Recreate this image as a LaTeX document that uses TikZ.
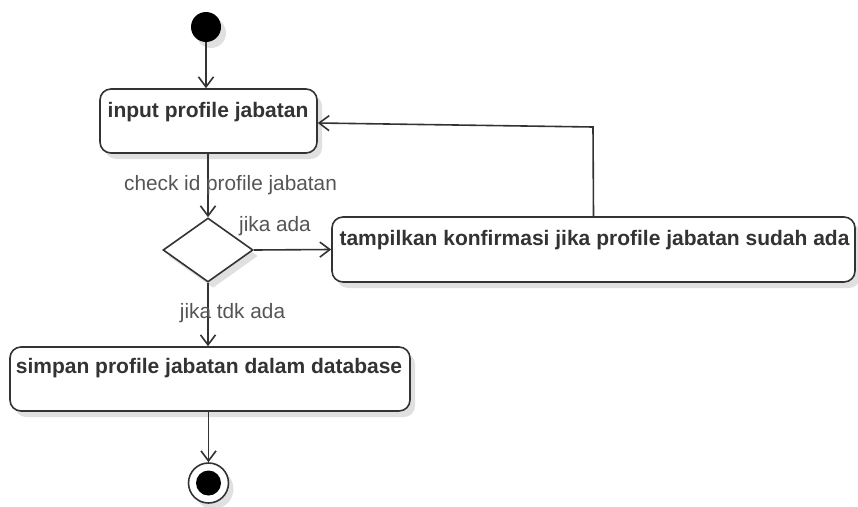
\documentclass[tikz,border=0pt]{standalone}
\usepackage{fontspec}
\setmainfont{Liberation Sans}
\usetikzlibrary{shapes.geometric,arrows.meta,shadows}
\definecolor{ink}{HTML}{333333}
\definecolor{labelgray}{HTML}{555555}
\tikzset{
  every picture/.style={x=1pt,y=-1pt},
  shade/.style={drop shadow={shadow xshift=5pt,shadow yshift=-6pt,opacity=0.12,fill=black}},
  actbox/.style={draw=ink,line width=1.6pt,rounded corners=11pt,fill=white,shade,inner sep=0pt},
  acttext/.style={font=\bfseries\fontsize{21}{25}\selectfont,text=ink,anchor=base},
  guard/.style={font=\fontsize{20.8}{25}\selectfont,text=labelgray,anchor=base},
  flow/.style={draw=ink,line width=1.6pt,-{Straight Barb[length=10pt,width=15pt,line width=1.6pt]}},
}
\begin{document}
\begin{tikzpicture}
\useasboundingbox (0,0) rectangle (858,506);

% initial and final states
\node[circle,fill=black,minimum size=30pt,inner sep=0pt,shade] (start) at (206,27) {};
\node[circle,draw=ink,line width=1.6pt,fill=white,minimum size=40pt,inner sep=0pt,shade] (end) at (208.5,483) {};
\fill[black] (end) circle (12.5pt);

% activities
\node[actbox,minimum width=217pt,minimum height=64pt] (input) at (208.5,121) {};
\node[acttext] at (208,117) {input profile jabatan};

\node[actbox,minimum width=523pt,minimum height=65pt] (tamp) at (593.5,249.5) {};
\node[acttext] at (594.5,245) {tampilkan konfirmasi jika profile jabatan sudah ada};

\node[actbox,minimum width=400pt,minimum height=64pt] (simpan) at (210,379) {};
\node[acttext] at (209,373) {simpan profile jabatan dalam database};

% decision
\node[diamond,draw=ink,line width=1.6pt,fill=white,minimum width=90pt,minimum height=64pt,inner sep=0pt,shade] (dia) at (208,250) {};

% transitions
\draw[flow] (start) -- (start |- input.north);
\draw[flow] (input.south -| dia) -- (dia.north);
\draw[flow] (dia.east) -- (tamp.west);
\draw[flow] (dia.south) -- (dia |- simpan.north);
\draw[flow] (simpan.south -| end) -- (end.north);
\draw[flow] (tamp.north) -- (593,127) -- ([yshift=-2pt]input.east);

% guards
\node[guard] at (230.5,190) {check id profile jabatan};
\node[guard] at (275,231) {jika ada};
\node[guard] at (232.5,318) {jika tdk ada};
\end{tikzpicture}
\end{document}
